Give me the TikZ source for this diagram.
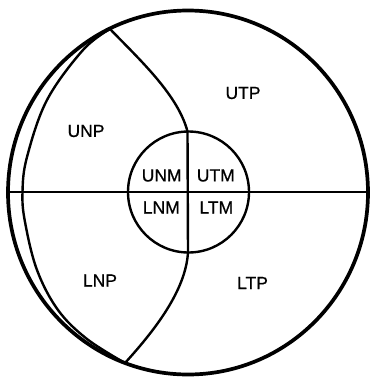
\documentclass[tikz,border=0pt]{standalone}
\usepackage{fontspec}
\setmainfont{Liberation Sans}
\newfontfamily\labelfont[FakeBold=0.7]{Liberation Sans}
\begin{document}
\begin{tikzpicture}[x=1pt,y=-1pt,
  thick line/.style={line width=3.7pt},
  mid line/.style={line width=2.9pt},
  thin line/.style={line width=2.4pt},
  region/.style={inner sep=0pt, font=\labelfont\fontsize{17.5}{17.5}\selectfont}]
\useasboundingbox (0,0) rectangle (371,378);
% outer boundary
\draw[thick line] (188,192.5) ellipse [x radius=180, y radius=182];
\coordinate (W) at (8,192);
\coordinate (E) at (368,192);
% inner left arc
\draw[thin line] plot[smooth, tension=0.6] coordinates {(110,29) (83,50) (47,100) (27,157) (22.5,192) (25,222) (37,270) (58,310) (87,339) (125,363)};
% horizontal line
\draw[mid line] (W) -- (E);
% central circle
\draw[thin line] (188.5,192) circle [radius=60.5];
% dividing curve
\coordinate (Ctop) at (110,29);
\coordinate (Cbot) at (125,363);
\draw[thin line] (Ctop) .. controls (140,60) and (178,95) .. (187.5,131.5)
  -- (188,252) .. controls (186,290) and (155,330) .. (Cbot);
% labels
\node[region] (unp) at (86,131) {UNP};
\node[region] (unm) at (161.7,175.5) {UNM};
\node[region] (utm) at (215.8,175.5) {UTM};
\node[region] (lnm) at (161.3,207.5) {LNM};
\node[region] (ltm) at (216.3,207.5) {LTM};
\node[region] (utp) at (243,93) {UTP};
\node[region] (ltp) at (252.5,283) {LTP};
\node[region] (lnp) at (100,280.5) {LNP};
\end{tikzpicture}
\end{document}
